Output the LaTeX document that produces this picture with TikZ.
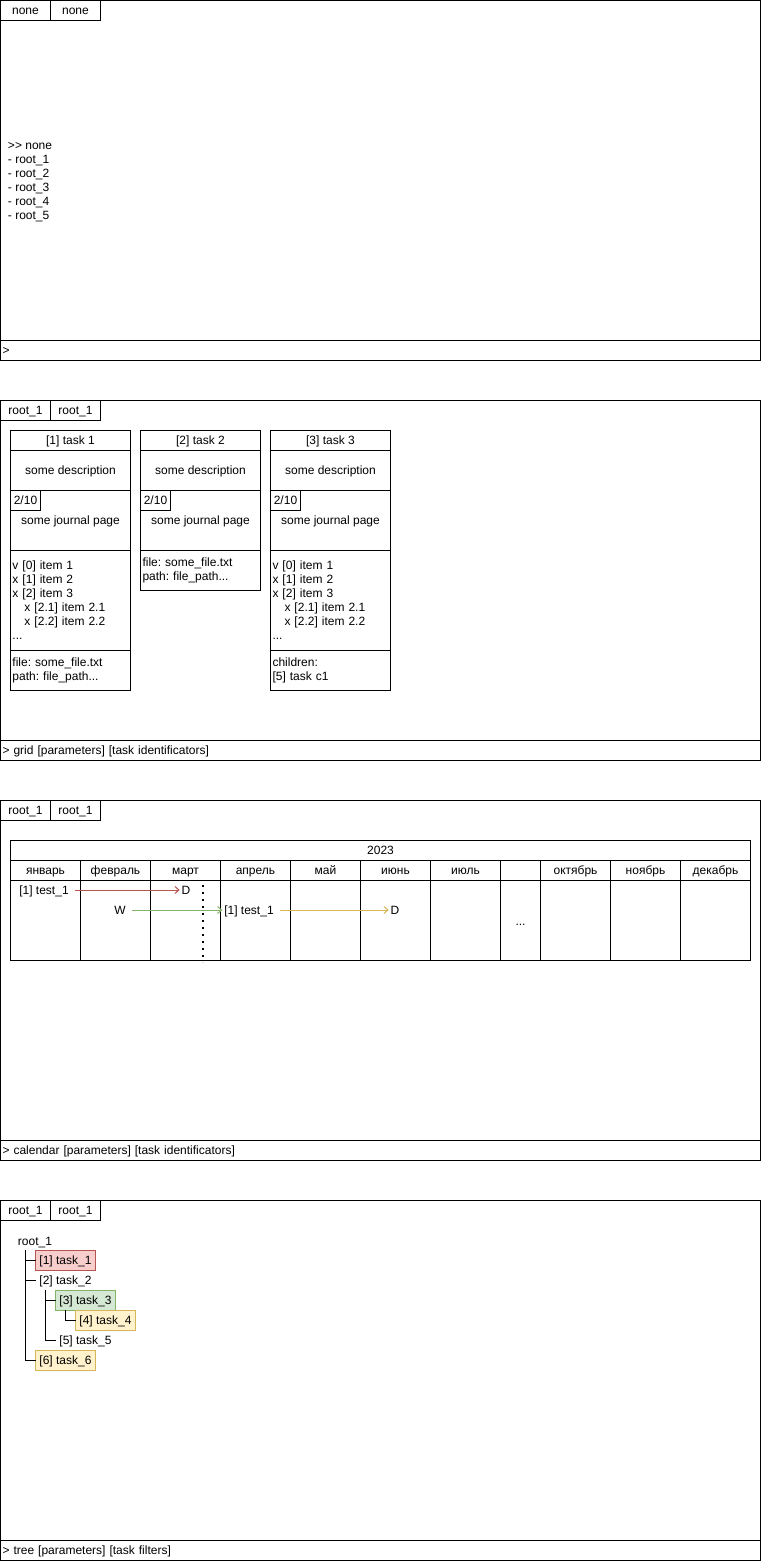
\documentclass[tikz,border=0pt]{standalone}
\usepackage{fontspec}
\setmainfont{Liberation Sans}
\usepackage{tikz}
\usetikzlibrary{positioning, calc, arrows.meta}
\definecolor{taskred}{RGB}{248, 206, 204}
\definecolor{taskredline}{RGB}{184, 84, 80}
\definecolor{taskgreen}{RGB}{213, 232, 212}
\definecolor{taskgreenline}{RGB}{130, 179, 102}
\definecolor{taskyellow}{RGB}{255, 242, 204}
\definecolor{taskyellowline}{RGB}{214, 182, 86}
\frenchspacing

\begin{document}
\begin{tikzpicture}[
        x=1pt, y=-1pt, line width=1pt,
        every node/.style={font=\fontsize{12}{14}\selectfont, outer sep=0pt, inner ysep=2pt},
        oneline/.style={text height=10pt, text depth=2pt},
        panel/.style={rectangle, draw, minimum width=760pt, minimum height=360pt},
        tab/.style={rectangle, draw, oneline, minimum width=50pt, minimum height=20pt},
        cmdbar/.style={rectangle, draw, oneline, minimum width=760pt, minimum height=20pt, text width=756pt, inner xsep=2pt, align=left},
        cardbox/.style={rectangle, draw, oneline, minimum width=120pt, minimum height=20pt, align=center},
        listbox/.style={rectangle, draw, minimum width=120pt, text width=116pt, inner xsep=2pt, align=left},
        pagebox/.style={rectangle, draw, oneline, minimum width=30pt, minimum height=20pt, inner xsep=1pt},
        cell/.style={rectangle, draw, oneline, minimum height=20pt},
        calmark/.style={oneline, inner xsep=2pt},
        flow/.style={-{Straight Barb[length=4pt, width=7pt]}, shorten <=4pt},
        taskbox/.style={rectangle, oneline, minimum width=60pt, minimum height=20pt, inner xsep=2pt}
    ]
        \useasboundingbox (0,0) rectangle (762,1561);

        % Panels
        \node[panel, anchor=north west] (nonepanel) at (0.5,0.5) {};
        \node[panel, below=40pt of nonepanel] (gridpanel) {};
        \node[panel, below=40pt of gridpanel] (calpanel) {};
        \node[panel, below=40pt of calpanel] (treepanel) {};

        % Tabs
        \node[tab, anchor=north west] (tabnoneA) at (nonepanel.north west) {none};
        \node[tab, right=0pt of tabnoneA] (tabnoneB) {none};
        \node[tab, anchor=north west] (tabgridA) at (gridpanel.north west) {root\_1};
        \node[tab, right=0pt of tabgridA] (tabgridB) {root\_1};
        \node[tab, anchor=north west] (tabcalA) at (calpanel.north west) {root\_1};
        \node[tab, right=0pt of tabcalA] (tabcalB) {root\_1};
        \node[tab, anchor=north west] (tabtreeA) at (treepanel.north west) {root\_1};
        \node[tab, right=0pt of tabtreeA] (tabtreeB) {root\_1};

        % Command bars
        \node[cmdbar, anchor=south west] (cmdnone) at (nonepanel.south west) {>};
        \node[cmdbar, anchor=south west] (cmdgrid) at (gridpanel.south west) {> grid [parameters] [task identificators]};
        \node[cmdbar, anchor=south west] (cmdcal) at (calpanel.south west) {> calendar [parameters] [task identificators]};
        \node[cmdbar, anchor=south west] (cmdtree) at (treepanel.south west) {> tree [parameters] [task filters]};

        % Root list
        \node[anchor=west, align=left, inner xsep=3pt] (rootlist) at (5,182) {>{}> none\\- root\_1\\- root\_2\\- root\_3\\- root\_4\\- root\_5};

        % Card 1
        \node[cardbox, anchor=north west] (head1) at (10.5,430.5) {[1] task 1};
        \node[cardbox, minimum height=40pt, below=0pt of head1] (desc1) {some description};
        \node[cardbox, minimum height=60pt, below=0pt of desc1] (journal1) {some journal page};
        \node[pagebox, anchor=north west] (page1) at (journal1.north west) {2/10};
        \node[listbox, minimum height=100pt, below=0pt of journal1] (items1) {v [0] item 1\\x [1] item 2\\x [2] item 3\\\hspace*{12pt}x [2.1] item 2.1\\\hspace*{12pt}x [2.2] item 2.2\\...};
        \node[listbox, minimum height=40pt, below=0pt of items1] (file1) {file: some\_file.txt\\path: file\_path...};

        % Card 2
        \node[cardbox, anchor=north west] (head2) at (140.5,430.5) {[2] task 2};
        \node[cardbox, minimum height=40pt, below=0pt of head2] (desc2) {some description};
        \node[cardbox, minimum height=60pt, below=0pt of desc2] (journal2) {some journal page};
        \node[pagebox, anchor=north west] (page2) at (journal2.north west) {2/10};
        \node[listbox, minimum height=40pt, below=0pt of journal2] (file2) {file: some\_file.txt\\path: file\_path...};

        % Card 3
        \node[cardbox, anchor=north west] (head3) at (270.5,430.5) {[3] task 3};
        \node[cardbox, minimum height=40pt, below=0pt of head3] (desc3) {some description};
        \node[cardbox, minimum height=60pt, below=0pt of desc3] (journal3) {some journal page};
        \node[pagebox, anchor=north west] (page3) at (journal3.north west) {2/10};
        \node[listbox, minimum height=100pt, below=0pt of journal3] (items3) {v [0] item 1\\x [1] item 2\\x [2] item 3\\\hspace*{12pt}x [2.1] item 2.1\\\hspace*{12pt}x [2.2] item 2.2\\...};
        \node[listbox, minimum height=40pt, below=0pt of items3] (children3) {children:\\{}[5] task c1};

        % Calendar
        \node[cell, minimum width=740pt, anchor=north west] (year) at (10.5,840.5) {2023};
        \foreach \m/\x/\w [count=\i] in {январь/10/70, февраль/80/70, март/150/70, апрель/220/70, май/290/70, июнь/360/70, июль/430/70, {}/500/40, октябрь/540/70, ноябрь/610/70, декабрь/680/70} {
            \node[cell, minimum width=\w, anchor=north west] (month\i) at (\x+0.5,860.5) {\m};
            \node[cell, minimum width=\w, minimum height=80pt, below=0pt of month\i] (day\i) {};
        }
        \node (gap) at ($(day8)+(0,4)$) {...};

        \node[calmark] (testA) at (44,890) {[1] test\_1};
        \node[calmark] (dueA) at (186,890) {D};
        \node[calmark] (waitB) at (120,910) {W};
        \node[calmark] (testB) at (249,910) {[1] test\_1};
        \node[calmark] (dueB) at (395,910) {D};
        \draw[flow, taskredline] (testA) -- (dueA);
        \draw[flow, taskgreenline] (waitB) -- (testB);
        \draw[flow, taskyellowline] (testB) -- (dueB);

        \coordinate (todaytop) at (203,885);
        \coordinate (todaybot) at (203,962);
        \draw[line width=2pt, dash pattern=on 2pt off 5pt] (todaytop) -- (todaybot);

        % Tree
        \node[oneline] (treeroot) at (35,1241) {root\_1};
        \node[taskbox, draw=taskredline, fill=taskred, anchor=north west] (task1) at (35.5,1250.5) {[1] task\_1};
        \node[taskbox, anchor=north west] (task2) at (35.5,1270.5) {[2] task\_2};
        \node[taskbox, draw=taskgreenline, fill=taskgreen, anchor=north west] (task3) at (55.5,1290.5) {[3] task\_3};
        \node[taskbox, draw=taskyellowline, fill=taskyellow, anchor=north west] (task4) at (75.5,1310.5) {[4] task\_4};
        \node[taskbox, anchor=north west] (task5) at (55.5,1330.5) {[5] task\_5};
        \node[taskbox, draw=taskyellowline, fill=taskyellow, anchor=north west] (task6) at (35.5,1350.5) {[6] task\_6};

        \coordinate (trunk) at (25.5,1250);
        \coordinate (subtrunk) at (45.5,1290);
        \coordinate (leaftrunk) at (65.5,1310);
        \draw (trunk) |- (task1.west);
        \draw (trunk) |- (task2.west);
        \draw (trunk) |- (task6.west);
        \draw (subtrunk) |- (task3.west);
        \draw (subtrunk) |- (task5.west);
        \draw (leaftrunk) |- (task4.west);
    \end{tikzpicture}
\end{document}
